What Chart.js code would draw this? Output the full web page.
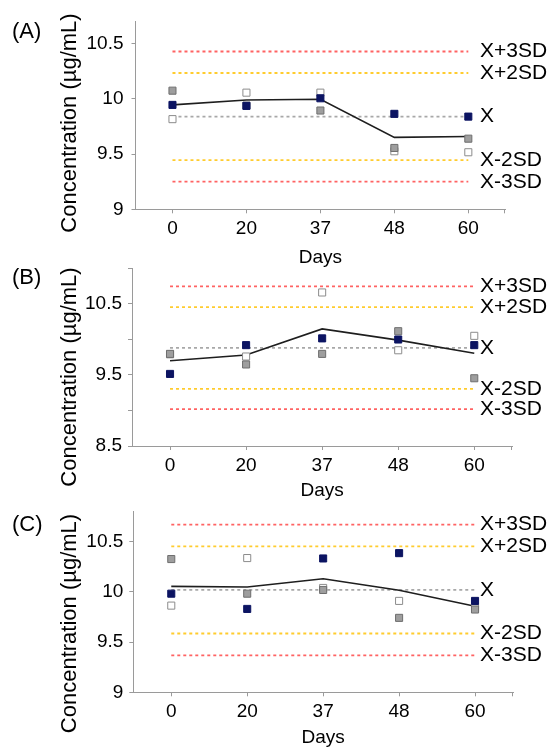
<!DOCTYPE html>
<html>
<head>
<meta charset="utf-8">
<script src="https://cdn.jsdelivr.net/npm/chart.js@4.4.0/dist/chart.umd.min.js"></script>
<style>
    html, body { margin: 0; padding: 0; background: #fff; }
    body { width: 552px; height: 748px; position: relative; overflow: hidden; }
    .panel { position: absolute; left: 0; width: 552px; }
    .panel canvas { display: block; }
</style>
</head>
<body>
<div class="panel" style="top:0px"><canvas id="chartA" width="552" height="272"></canvas></div>
<div class="panel" style="top:245px"><canvas id="chartB" width="552" height="260"></canvas></div>
<div class="panel" style="top:490px"><canvas id="chartC" width="552" height="258"></canvas></div>
<script>
// Shared categories and labels
const days = ['0', '20', '37', '48', '60'];
const limitLabels = ['X+3SD', 'X+2SD', 'X', 'X-2SD', 'X-3SD'];
const limitColors = ['#ff6363', '#ffcc2e', '#a8a8a8', '#ffcc2e', '#ff6363'];

// Panel A
const navyA = [9.946, 9.937, 10.006, 9.865, 9.84];
const grayA = [10.075, 9.94, 9.895, 9.556, 9.64];
const whiteA = [9.817, 10.057, 10.057, 9.526, 9.517];
const meanA = [9.946, 9.99, 9.997, 9.652, 9.66];
const limitsA = [10.43, 10.235, 9.84, 9.445, 9.25];
const ticksA = [9, 9.5, 10, 10.5];

// Panel B
const navyB = [9.514, 9.919, 10.014, 9.998, 9.919];
const grayB = [9.796, 9.647, 9.796, 10.115, 9.453];
const whiteB = [9.79, 9.759, 10.66, 9.847, 10.05];
const meanB = [9.70, 9.78, 10.147, 9.99, 9.806];
const limitsB = [10.745, 10.455, 9.88, 9.305, 9.02];
const ticksB = [8.5, 9.5, 10.5];

// Panel C
const navyC = [9.983, 9.831, 10.334, 10.387, 9.911];
const grayC = [10.328, 9.983, 10.02, 9.742, 9.825];
const whiteC = [9.864, 10.338, 10.04, 9.911, 9.838];
const meanC = [10.056, 10.05, 10.132, 10.017, 9.858];
const limitsC = [10.672, 10.454, 10.02, 9.586, 9.368];
const ticksC = [9, 9.5, 10, 10.5];

const FONT = '"Liberation Sans", Arial, Helvetica, sans-serif';
Chart.defaults.font.family = FONT;
Chart.defaults.color = '#000';

// Panel letter, rotated y title, limit labels on the right, end tick of x axis
const panelText = {
    id: 'panelText',
    afterDraw(chart, args, o) {
        const ctx = chart.ctx;
        const y = chart.scales.y;
        const area = chart.chartArea;
        ctx.save();
        ctx.strokeStyle = '#9a9a9a';
        ctx.lineWidth = 1;
        ctx.beginPath();
        ctx.moveTo(Math.round(area.right) - 0.5, area.bottom);
        ctx.lineTo(Math.round(area.right) - 0.5, area.bottom + 4);
        ctx.stroke();

        ctx.fillStyle = '#000';
        ctx.textBaseline = 'middle';
        ctx.textAlign = 'left';
        ctx.font = '22px ' + FONT;
        ctx.fillText(o.letter, 12, o.letterY);
        ctx.font = '21px ' + FONT;
        o.limits.forEach((v, i) => {
            ctx.fillText(limitLabels[i], 480, y.getPixelForValue(v));
        });
        ctx.translate(70, o.titleY);
        ctx.rotate(-Math.PI / 2);
        ctx.textAlign = 'center';
        ctx.font = '22px ' + FONT;
        ctx.fillText('Concentration (\u00b5g/mL)', 0, 0);
        ctx.restore();
    }
};

function buildPanel(id, p) {
    const canvas = document.getElementById(id);
    const H = canvas.height;
    const datasets = [];

    datasets.push({ data: p.navy, showLine: false, pointStyle: 'rect', pointRadius: 5,
        backgroundColor: '#0c1462', borderColor: '#0c1462', borderWidth: 1, order: 0 });
    datasets.push({ data: p.gray, showLine: false, pointStyle: 'rect', pointRadius: 5,
        backgroundColor: '#9e9e9e', borderColor: '#6e6e6e', borderWidth: 1, order: 1 });
    datasets.push({ data: p.white, showLine: false, pointStyle: 'rect', pointRadius: 5,
        backgroundColor: '#ffffff', borderColor: '#8c8c8c', borderWidth: 1, order: 2 });
    datasets.push({ data: p.mean, borderColor: '#1e1e1e', borderWidth: 1.6, pointRadius: 0,
        tension: 0, order: 3 });

    p.limits.forEach((v, i) => {
        datasets.push({
            data: days.map(() => v),
            borderColor: limitColors[i],
            borderWidth: 1.8,
            borderDash: [3, 3],
            pointRadius: 0,
            order: 4
        });
    });

    return new Chart(canvas, {
        type: 'line',
        data: { labels: days, datasets: datasets },
        options: {
            responsive: false,
            animation: false,
            events: [],
            layout: {
                padding: {
                    left: 0,
                    right: 552 - p.area.right,
                    top: p.area.top,
                    bottom: H - p.area.bottom - p.xHeight
                }
            },
            plugins: {
                legend: { display: false },
                tooltip: { enabled: false },
                panelText: { letter: p.letter, letterY: p.letterY, titleY: p.titleY, limits: p.limits }
            },
            scales: {
                x: {
                    type: 'category',
                    offset: true,
                    afterFit: s => { s.height = p.xHeight; },
                    grid: { display: true, drawOnChartArea: false, drawTicks: true, tickLength: 4,
                        color: '#9a9a9a', offset: false },
                    border: { display: true, color: '#9a9a9a', width: 1 },
                    ticks: { font: { size: 19, lineHeight: 1 }, padding: 6, maxRotation: 0, color: '#000' },
                    title: { display: true, text: 'Days', font: { size: 19, lineHeight: 1 },
                        padding: { top: 0, bottom: 0 }, color: '#000' }
                },
                y: {
                    type: 'linear',
                    min: p.min,
                    max: p.max,
                    afterFit: s => { s.width = p.area.left; },
                    grid: { display: true, drawOnChartArea: false, drawTicks: true, tickLength: 4,
                        color: '#9a9a9a' },
                    border: { display: true, color: '#9a9a9a', width: 1 },
                    ticks: {
                        stepSize: 0.5,
                        includeBounds: false,
                        padding: p.tickPad,
                        font: { size: 19, lineHeight: 1 },
                        color: '#000',
                        callback: v => (p.shown.includes(v) ? String(v) : '')
                    }
                }
            }
        },
        plugins: [panelText]
    });
}

buildPanel('chartA', {
    navy: navyA, gray: grayA, white: whiteA, mean: meanA, limits: limitsA,
    min: 9, max: 10.7, shown: ticksA,
    area: { left: 135.5, right: 505.3, top: 21.7, bottom: 209.3 },
    xHeight: 58.2, tickPad: 8, letter: '(A)', letterY: 32, titleY: 123
});

buildPanel('chartB', {
    navy: navyB, gray: grayB, white: whiteB, mean: meanB, limits: limitsB,
    min: 8.5, max: 11, shown: ticksB,
    area: { left: 132, right: 512.3, top: 23.3, bottom: 201 },
    xHeight: 54.5, tickPad: 6, letter: '(B)', letterY: 33, titleY: 132
});

buildPanel('chartC', {
    navy: navyC, gray: grayC, white: whiteC, mean: meanC, limits: limitsC,
    min: 9, max: 10.8, shown: ticksC,
    area: { left: 133.3, right: 513, top: 21.7, bottom: 202.3 },
    xHeight: 55.2, tickPad: 6, letter: '(C)', letterY: 35, titleY: 133.5
});
</script>
</body>
</html>
